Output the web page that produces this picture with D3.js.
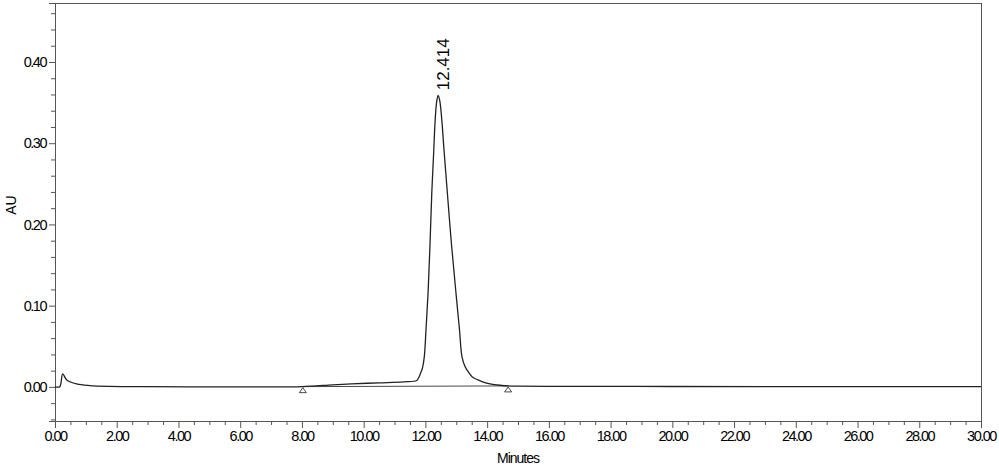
<!DOCTYPE html>
<html>
<head>
<meta charset="utf-8">
<script src="https://cdn.jsdelivr.net/npm/d3@7"></script>
<style>
  html, body { margin: 0; padding: 0; background: #fff; }
  svg { display: block; }
  text { font-family: "Liberation Sans", Arial, sans-serif; fill: #000; }
</style>
</head>
<body>
<svg id="chart" width="999" height="467"></svg>
<script>
// ---- data ----
const timeMin = [0, 0.15, 0.19, 0.25, 0.38, 0.70, 1.13, 1.78, 3.0, 5.0, 7.0, 8.0, 9.0, 9.6, 10.5, 11.3,
  11.718, 11.776, 11.848, 11.906, 11.964, 12.019, 12.09, 12.149, 12.208, 12.272, 12.317, 12.369, 12.414,
  12.466, 12.531, 12.602, 12.709, 12.846, 12.982, 13.105, 13.186, 13.283, 13.413, 13.542, 13.704, 13.899,
  14.093, 14.417, 14.677, 15.0, 16.0, 20.0, 25.0, 30.0];
const absAU = [0, 0, 0.004, 0.016, 0.0086, 0.0037, 0.0016, 0.0006, 0.0002, 0.0, -0.0001, 0.0004, 0.0025, 0.0037, 0.0050, 0.0062,
  0.0078, 0.011, 0.0172, 0.0234, 0.0369, 0.070, 0.119, 0.175, 0.240, 0.292, 0.329, 0.352, 0.359,
  0.352, 0.329, 0.292, 0.240, 0.175, 0.119, 0.070, 0.0369, 0.0250, 0.0172, 0.0115, 0.0086, 0.0055,
  0.0037, 0.0020, 0.0012, 0.0009, 0.0007, 0.0005, 0.0004, 0.0003];
const peakLabels = ["12.414"];
const peakTimes = [12.414];
const peakHeights = [0.359];
const baselineTimes = [8.03, 14.68];
const baselineAU = [0.0003, 0.0012];
const xTickLabels = ["0.00","2.00","4.00","6.00","8.00","10.00","12.00","14.00","16.00","18.00","20.00","22.00","24.00","26.00","28.00","30.00"];
const yTickLabels = ["0.00","0.10","0.20","0.30","0.40"];
const xTitle = "Minutes";
const yTitle = "AU";

// ---- layout ----
const padL = 55, padR = 981, padT = 3, padB = 421;
const svg = d3.select("#chart");
const x = d3.scaleLinear().domain([0, 30]).range([padL, padR]);
const y = d3.scaleLinear().domain([-0.042, 0.4726]).range([padB, padT]);

// frame
svg.append("rect").attr("x", padL).attr("y", padT).attr("width", padR - padL).attr("height", padB - padT)
  .attr("fill", "none").attr("stroke", "#555").attr("stroke-width", 1).attr("shape-rendering", "crispEdges");

// x axis: minor ticks every 0.5, major every 2
const xMinor = d3.range(0, 30.001, 0.5).filter(v => Math.abs(v / 2 - Math.round(v / 2)) > 1e-6);
const xMajor = xTickLabels.map(Number);
const xAxisMinor = d3.axisBottom(x).tickValues(xMinor).tickSize(4).tickFormat("");
const xAxisMajor = d3.axisBottom(x).tickValues(xMajor).tickSize(7).tickPadding(3)
  .tickFormat((d, i) => xTickLabels[i]);
const gxm = svg.append("g").attr("transform", `translate(0,${padB})`).call(xAxisMinor);
const gx = svg.append("g").attr("transform", `translate(0,${padB})`).call(xAxisMajor);
[gxm, gx].forEach(g => {
  g.select(".domain").attr("stroke", "#555");
  g.selectAll(".tick line").attr("stroke", "#555");
});
gx.selectAll(".tick text").attr("font-size", "14.5px").attr("letter-spacing", "-1.5px")
  .attr("font-family", "'Liberation Sans', Arial, sans-serif").attr("fill", "#000");

// y axis: minor ticks every 0.02, major every 0.10
const yMinor = d3.range(-0.04, 0.4601, 0.02).map(v => +v.toFixed(2)).filter(v => Math.abs(v * 10 - Math.round(v * 10)) > 1e-6);
const yMajor = yTickLabels.map(Number);
const yAxisMinor = d3.axisLeft(y).tickValues(yMinor).tickSize(4).tickFormat("");
const yAxisMajor = d3.axisLeft(y).tickValues(yMajor).tickSize(6).tickPadding(3)
  .tickFormat((d, i) => yTickLabels[i]);
const gym = svg.append("g").attr("transform", `translate(${padL},0)`).call(yAxisMinor);
const gy = svg.append("g").attr("transform", `translate(${padL},0)`).call(yAxisMajor);
[gym, gy].forEach(g => {
  g.select(".domain").attr("stroke", "#555");
  g.selectAll(".tick line").attr("stroke", "#555");
});
gy.selectAll(".tick text").attr("font-size", "14.5px").attr("letter-spacing", "-1.5px")
  .attr("font-family", "'Liberation Sans', Arial, sans-serif").attr("fill", "#000");

// titles
svg.append("text").attr("x", (padL + padR) / 2).attr("y", 463).attr("text-anchor", "middle")
  .attr("font-size", "14px").attr("letter-spacing", "-1px").text(xTitle);
svg.append("text").attr("transform", `translate(16,205) rotate(-90)`).attr("text-anchor", "middle")
  .attr("font-size", "14px").text(yTitle);

// integration baseline
const pts = timeMin.map((t, i) => [t, absAU[i]]);
svg.append("line")
  .attr("x1", x(baselineTimes[0])).attr("y1", y(baselineAU[0]))
  .attr("x2", x(baselineTimes[1])).attr("y2", y(baselineAU[1]))
  .attr("stroke", "#333").attr("stroke-width", 0.9);

// signal trace
const line = d3.line().x(d => x(d[0])).y(d => y(d[1])).curve(d3.curveCatmullRom.alpha(0.5));
svg.append("path").datum(pts).attr("d", line).attr("fill", "none")
  .attr("stroke", "#222").attr("stroke-width", 1.3);

// baseline markers (triangles)
svg.selectAll("path.marker").data(baselineTimes.map((t, i) => [t, baselineAU[i]])).enter()
  .append("path").attr("class", "marker")
  .attr("d", d => {
    const cx = x(d[0]), cy = y(d[1]) + 1;
    return `M${cx},${cy} L${cx + 3.5},${cy + 5} L${cx - 3.5},${cy + 5} Z`;
  })
  .attr("fill", "#fff").attr("stroke", "#333").attr("stroke-width", 0.9);

// peak label
peakLabels.forEach((lab, i) => {
  svg.append("text")
    .attr("transform", `translate(${x(peakTimes[i]) + 11},${y(peakHeights[i]) - 5}) rotate(-90)`)
    .attr("text-anchor", "start").attr("font-size", "17px").text(lab);
});
</script>
</body>
</html>
